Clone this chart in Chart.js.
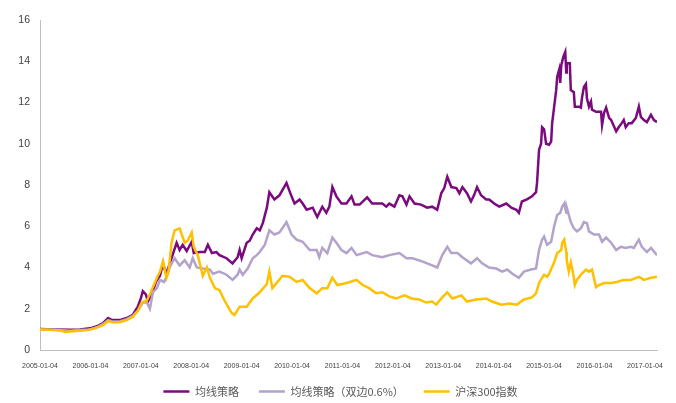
<!DOCTYPE html>
<html>
<head>
<meta charset="utf-8">
<script src="https://cdn.jsdelivr.net/npm/chart.js@4.4.0/dist/chart.umd.min.js"></script>
<style>
  html, body { margin: 0; padding: 0; background: #fff; }
  #chart { display: block; }
</style>
</head>
<body>
<canvas id="chart" width="676" height="403"></canvas>
<script>
// net value curves, dates in decimal years

const seriesNames = ['均线策略', '均线策略（双边0.6%）', '沪深300指数'];
const yearTicks = [2005, 2006, 2007, 2008, 2009, 2010, 2011, 2012, 2013, 2014, 2015, 2016, 2017];

const strategyDates = [
  2005.00, 2005.30, 2005.59, 2005.79, 2005.99, 2006.13, 2006.25, 2006.35, 2006.43, 2006.58,
  2006.72, 2006.84, 2006.94, 2007.00, 2007.04, 2007.10, 2007.14, 2007.22, 2007.30, 2007.38,
  2007.44, 2007.50, 2007.55, 2007.61, 2007.71, 2007.77, 2007.83, 2007.91, 2008.01, 2008.05,
  2008.17, 2008.27, 2008.33, 2008.41, 2008.50, 2008.56, 2008.70, 2008.82, 2008.92, 2008.96,
  2009.00, 2009.10, 2009.16, 2009.22, 2009.30, 2009.36, 2009.42, 2009.50, 2009.55, 2009.65,
  2009.75, 2009.89, 2009.99, 2010.05, 2010.15, 2010.21, 2010.29, 2010.41, 2010.50, 2010.60,
  2010.68, 2010.74, 2010.80, 2010.88, 2010.98, 2011.08, 2011.18, 2011.24, 2011.34, 2011.49,
  2011.59, 2011.79, 2011.87, 2011.93, 2012.03, 2012.13, 2012.19, 2012.27, 2012.33, 2012.43,
  2012.56, 2012.68, 2012.78, 2012.88, 2012.96, 2013.02, 2013.08, 2013.16, 2013.26, 2013.32,
  2013.38, 2013.47, 2013.55, 2013.61, 2013.67, 2013.75, 2013.85, 2013.91, 2014.01, 2014.11,
  2014.25, 2014.35, 2014.45, 2014.50, 2014.56, 2014.66, 2014.76, 2014.84, 2014.86, 2014.90,
  2014.94, 2014.96, 2015.00, 2015.04, 2015.10, 2015.14, 2015.16, 2015.20, 2015.24, 2015.26,
  2015.30, 2015.32, 2015.34, 2015.38, 2015.42, 2015.44, 2015.45, 2015.51, 2015.53, 2015.59,
  2015.61, 2015.69, 2015.73, 2015.75, 2015.79, 2015.83, 2015.85, 2015.89, 2015.93, 2015.95,
  2016.03, 2016.13, 2016.15, 2016.19, 2016.23, 2016.29, 2016.33, 2016.43, 2016.48, 2016.54,
  2016.58, 2016.62, 2016.68, 2016.74, 2016.82, 2016.88, 2016.92, 2016.98, 2017.04, 2017.12,
  2017.18, 2017.24
];
const strategyValues = [
  1.02, 1.00, 0.98, 1.00, 1.05, 1.15, 1.30, 1.55, 1.45, 1.45,
  1.55, 1.70, 2.10, 2.50, 2.85, 2.70, 2.35, 2.70, 3.30, 3.60,
  4.20, 3.70, 4.00, 4.45, 5.20, 4.85, 5.10, 4.80, 5.25, 4.70,
  4.75, 4.75, 5.10, 4.70, 4.75, 4.60, 4.45, 4.20, 4.50, 4.85,
  4.45, 5.20, 5.30, 5.60, 5.90, 5.80, 6.15, 6.90, 7.65, 7.30,
  7.50, 8.10, 7.45, 7.10, 7.30, 7.10, 6.80, 6.90, 6.45, 6.95,
  6.65, 6.95, 7.90, 7.45, 7.10, 7.10, 7.45, 7.05, 7.05, 7.40,
  7.10, 7.10, 6.95, 7.10, 6.95, 7.50, 7.45, 7.05, 7.45, 7.10,
  7.05, 6.90, 6.95, 6.80, 7.60, 7.85, 8.40, 7.90, 7.85, 7.60,
  7.90, 7.60, 7.20, 7.50, 7.90, 7.50, 7.30, 7.30, 7.10, 6.95,
  7.10, 6.90, 6.80, 6.65, 7.20, 7.30, 7.45, 7.65, 8.10, 9.70,
  10.00, 10.80, 10.70, 10.00, 9.95, 10.10, 11.00, 11.80, 12.60, 13.25,
  13.60, 12.95, 13.80, 14.20, 14.45, 13.45, 13.90, 13.90, 12.60, 12.50,
  11.80, 11.80, 11.75, 12.20, 12.75, 12.90, 12.20, 11.80, 12.05, 11.65,
  11.55, 11.55, 10.90, 11.50, 11.75, 11.25, 11.15, 10.60, 10.80, 11.00,
  11.15, 10.80, 11.00, 11.00, 11.25, 11.80, 11.30, 11.15, 11.05, 11.40,
  11.15, 11.05
];

const costDates = [
  2005.00, 2005.30, 2005.59, 2005.79, 2005.99, 2006.13, 2006.25, 2006.35, 2006.43, 2006.58,
  2006.72, 2006.84, 2006.94, 2007.04, 2007.12, 2007.18, 2007.24, 2007.32, 2007.38, 2007.46,
  2007.51, 2007.57, 2007.67, 2007.77, 2007.87, 2007.97, 2008.03, 2008.11, 2008.23, 2008.37,
  2008.43, 2008.56, 2008.70, 2008.82, 2008.92, 2008.96, 2009.02, 2009.12, 2009.22, 2009.30,
  2009.36, 2009.46, 2009.55, 2009.65, 2009.75, 2009.89, 2009.99, 2010.09, 2010.21, 2010.35,
  2010.49, 2010.54, 2010.60, 2010.70, 2010.80, 2010.88, 2010.98, 2011.08, 2011.18, 2011.28,
  2011.48, 2011.59, 2011.79, 2011.93, 2012.13, 2012.27, 2012.39, 2012.58, 2012.78, 2012.88,
  2012.98, 2013.08, 2013.16, 2013.28, 2013.38, 2013.55, 2013.67, 2013.77, 2013.91, 2014.05,
  2014.17, 2014.27, 2014.37, 2014.50, 2014.60, 2014.74, 2014.84, 2014.90, 2014.96, 2015.00,
  2015.06, 2015.14, 2015.20, 2015.26, 2015.32, 2015.36, 2015.40, 2015.44, 2015.45, 2015.53,
  2015.59, 2015.65, 2015.73, 2015.79, 2015.85, 2015.89, 2015.99, 2016.09, 2016.15, 2016.23,
  2016.33, 2016.43, 2016.52, 2016.62, 2016.72, 2016.78, 2016.88, 2016.94, 2017.04, 2017.12,
  2017.24
];
const costValues = [
  1.00, 0.98, 0.93, 0.97, 1.00, 1.10, 1.25, 1.45, 1.38, 1.38,
  1.50, 1.65, 1.90, 2.30, 2.30, 2.00, 2.80, 3.00, 3.40, 3.30,
  3.55, 4.00, 4.45, 4.10, 4.35, 4.00, 4.45, 4.00, 3.95, 3.90,
  3.70, 3.80, 3.65, 3.40, 3.65, 3.90, 3.65, 3.95, 4.45, 4.60,
  4.75, 5.10, 5.80, 5.60, 5.70, 6.20, 5.60, 5.35, 5.25, 4.85,
  4.85, 4.50, 4.95, 4.70, 5.45, 5.20, 4.85, 4.70, 4.95, 4.60,
  4.75, 4.60, 4.50, 4.60, 4.70, 4.45, 4.45, 4.30, 4.10, 4.00,
  4.60, 5.00, 4.70, 4.70, 4.50, 4.20, 4.45, 4.20, 4.00, 3.95,
  3.80, 3.90, 3.70, 3.50, 3.80, 3.90, 3.95, 4.85, 5.35, 5.50,
  5.10, 5.25, 6.00, 6.55, 6.65, 6.95, 7.10, 6.65, 6.90, 6.20,
  5.90, 5.75, 5.90, 6.20, 6.15, 5.75, 5.60, 5.60, 5.25, 5.45,
  5.20, 4.85, 5.00, 4.95, 5.00, 4.95, 5.35, 5.00, 4.75, 4.95,
  4.60
];

const indexDates = [
  2005.00, 2005.20, 2005.40, 2005.50, 2005.59, 2005.79, 2005.95, 2006.09, 2006.25, 2006.35,
  2006.43, 2006.58, 2006.72, 2006.84, 2006.94, 2007.02, 2007.12, 2007.18, 2007.32, 2007.38,
  2007.44, 2007.51, 2007.55, 2007.61, 2007.67, 2007.77, 2007.87, 2007.93, 2008.01, 2008.05,
  2008.13, 2008.23, 2008.31, 2008.37, 2008.47, 2008.56, 2008.66, 2008.80, 2008.86, 2008.96,
  2009.10, 2009.22, 2009.36, 2009.50, 2009.55, 2009.61, 2009.71, 2009.81, 2009.95, 2010.09,
  2010.21, 2010.35, 2010.49, 2010.60, 2010.70, 2010.80, 2010.90, 2011.08, 2011.28, 2011.40,
  2011.53, 2011.67, 2011.79, 2011.93, 2012.07, 2012.23, 2012.37, 2012.52, 2012.66, 2012.78,
  2012.86, 2012.98, 2013.08, 2013.18, 2013.36, 2013.47, 2013.65, 2013.85, 2013.97, 2014.15,
  2014.31, 2014.46, 2014.60, 2014.76, 2014.84, 2014.90, 2015.00, 2015.06, 2015.10, 2015.20,
  2015.26, 2015.34, 2015.36, 2015.40, 2015.44, 2015.45, 2015.49, 2015.53, 2015.57, 2015.61,
  2015.65, 2015.73, 2015.83, 2015.89, 2015.95, 2016.03, 2016.09, 2016.19, 2016.33, 2016.44,
  2016.58, 2016.72, 2016.88, 2016.98, 2017.12, 2017.24
];
const indexValues = [
  1.00, 0.98, 0.95, 0.87, 0.90, 0.93, 0.97, 1.05, 1.20, 1.40,
  1.35, 1.35, 1.45, 1.60, 1.90, 2.30, 2.40, 2.70, 3.50, 3.80,
  4.30, 3.50, 3.80, 5.20, 5.80, 5.90, 5.20, 5.30, 5.70, 5.00,
  4.60, 3.60, 4.00, 3.50, 3.00, 2.90, 2.40, 1.80, 1.70, 2.10,
  2.10, 2.50, 2.80, 3.20, 3.80, 3.00, 3.30, 3.60, 3.55, 3.30,
  3.40, 3.00, 2.75, 3.00, 3.00, 3.50, 3.15, 3.25, 3.40, 3.15,
  3.00, 2.75, 2.80, 2.60, 2.50, 2.65, 2.50, 2.45, 2.30, 2.35,
  2.20, 2.55, 2.80, 2.50, 2.65, 2.35, 2.45, 2.50, 2.35, 2.20,
  2.25, 2.20, 2.45, 2.55, 2.75, 3.25, 3.65, 3.55, 3.70, 4.25,
  4.70, 4.85, 5.20, 5.35, 4.75, 4.35, 3.80, 4.25, 3.80, 3.15,
  3.40, 3.65, 3.90, 3.80, 3.90, 3.05, 3.15, 3.25, 3.25, 3.30,
  3.40, 3.40, 3.55, 3.40, 3.50, 3.55
];

const colors = ['#7B0A7E', '#B3A2CC', '#FFC000'];

function toPoints(dates, values) {
  return dates.map((d, i) => ({ x: d, y: values[i] }));
}

// nudge the legend to where the original sits (centred under the plot, y≈392)
const legendNudge = {
  id: 'legendNudge',
  afterLayout(chart) {
    const lg = chart.legend;
    if (!lg) return;
    lg.left += 12;
    lg.right += 12;
    lg.top = 366;
    lg.bottom = chart.height;
    lg.height = lg.bottom - lg.top;
  }
};

function initChart() {
  const ctx = document.getElementById('chart').getContext('2d');
  const series = [
    toPoints(strategyDates, strategyValues),
    toPoints(costDates, costValues),
    toPoints(indexDates, indexValues)
  ];
  // reversed so the index line sits on top, legend reversed back
  const datasets = [2, 1, 0].map(i => ({
    label: seriesNames[i],
    data: series[i],
    borderColor: colors[i],
    backgroundColor: colors[i],
    borderWidth: 2.5,
    pointRadius: 0,
    tension: 0,
    fill: false
  }));

  new Chart(ctx, {
    type: 'line',
    data: { datasets: datasets },
    plugins: [legendNudge],
    options: {
      responsive: false,
      animation: false,
      layout: { padding: { top: 20, right: 19, left: 0, bottom: 0 } },
      plugins: {
        tooltip: { enabled: false },
        legend: {
          position: 'bottom',
          reverse: true,
          maxHeight: 29,
          labels: {
            usePointStyle: true,
            pointStyle: 'line',
            pointStyleWidth: 26,
            padding: 20,
            color: '#595959',
            font: { family: 'Noto Sans CJK SC', size: 11 }
          }
        }
      },
      scales: {
        x: {
          type: 'linear',
          min: 2005,
          max: 2017.24,
          grid: { display: false, drawTicks: false },
          border: { display: true, color: '#BFBFBF', width: 1 },
          afterBuildTicks: scale => {
            scale.ticks = yearTicks.map(v => ({ value: v }));
          },
          afterFit: scale => { scale.height = 24; },
          ticks: {
            autoSkip: false,
            maxRotation: 0,
            padding: 12,
            color: '#404040',
            font: { family: 'Liberation Sans', size: 7 },
            callback: v => v + '-01-04'
          }
        },
        y: {
          min: 0,
          max: 16,
          grid: { display: false, drawTicks: false },
          border: { display: true, color: '#BFBFBF', width: 1 },
          afterFit: scale => { scale.width = 40; },
          ticks: {
            stepSize: 2,
            padding: 10,
            color: '#404040',
            font: { family: 'Liberation Sans', size: 10.5 }
          }
        }
      }
    }
  });
}

initChart();
</script>
</body>
</html>
